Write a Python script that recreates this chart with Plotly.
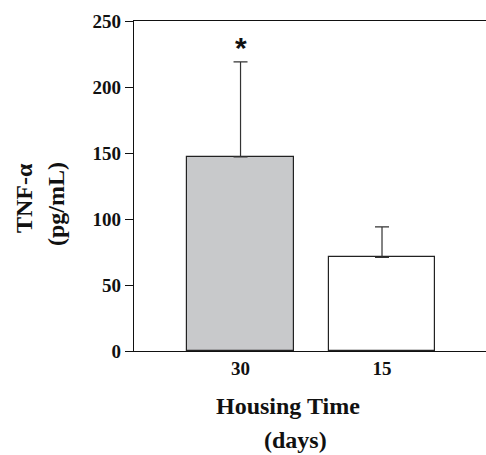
import plotly.graph_objects as go

categories = ["30", "15"]
means = [147, 71]
errors = [72, 23]
fills = ["#c8c9cb", "#ffffff"]
y_ticks = [0, 50, 100, 150, 200, 250]
sig_marks = ["*", ""]
sig_y = [233, None]

FONT = "Liberation Serif"
INK = "#111111"

W, H = 486, 455
ML, MR, MT, MB = 134, 0, 21, 104
pw, ph = W - ML - MR, H - MT - MB


def px(x):
    return (x - ML) / pw


def py(y):
    return (H - MB - y) / ph


fig = go.Figure()
fig.add_trace(go.Bar(
    x=[0, 1], y=means,
    marker=dict(color=fills, line=dict(color="#222222", width=1.2)),
    width=0.756,
    error_y=dict(type="data", array=errors, symmetric=False, arrayminus=[0, 0],
                 color="#333333", thickness=1.2, width=7),
    showlegend=False,
))

for i, (m, yy) in enumerate(zip(sig_marks, sig_y)):
    if m:
        fig.add_annotation(x=i, y=yy, text="<b>" + m + "</b>", showarrow=False,
                           font=dict(family="Liberation Sans", size=30, color=INK),
                           xref="x", yref="y", yshift=-4,
                           xanchor="center", yanchor="middle")

fig.update_layout(
    width=W, height=H,
    margin=dict(l=ML, r=MR, t=MT, b=MB),
    plot_bgcolor="white", paper_bgcolor="white",
    font=dict(family=FONT, color=INK),
    bargap=0,
)
fig.update_xaxes(
    range=[-0.753, 1.735],
    tickmode="array", tickvals=[0, 1], ticktext=["<b>" + c + "</b>" for c in categories],
    tickfont=dict(family=FONT, size=19, color=INK),
    showline=True, linecolor=INK, linewidth=1.4, mirror=True,
    ticks="", showgrid=False, zeroline=False, automargin=False,
)
fig.update_yaxes(
    range=[0, 250],
    tickmode="array", tickvals=y_ticks, ticktext=["<b>%d</b>" % v for v in y_ticks],
    tickfont=dict(family=FONT, size=19, color=INK),
    showline=True, linecolor=INK, linewidth=1.4,
    ticks="outside", ticklen=8, tickwidth=1.4, tickcolor=INK,
    showgrid=False, zeroline=False, automargin=False,
)

title_font = dict(family=FONT, size=24, color=INK)
common = dict(xref="paper", yref="paper", showarrow=False, font=title_font,
              xanchor="center", yanchor="middle")
fig.add_annotation(x=px(288), y=py(406), text="<b>Housing Time</b>", **common)
fig.add_annotation(x=px(295), y=py(440), text="<b>(days)</b>", **common)
fig.add_annotation(x=px(24), y=py(198), text="<b>TNF-α</b>", textangle=-90, **common)
fig.add_annotation(x=px(56), y=py(204), text="<b>(pg/mL)</b>", textangle=-90, **common)

fig.write_html("out.html",
               config={"displayModeBar": False},
               post_script="document.body.style.margin='0';document.body.style.overflow='hidden';")
